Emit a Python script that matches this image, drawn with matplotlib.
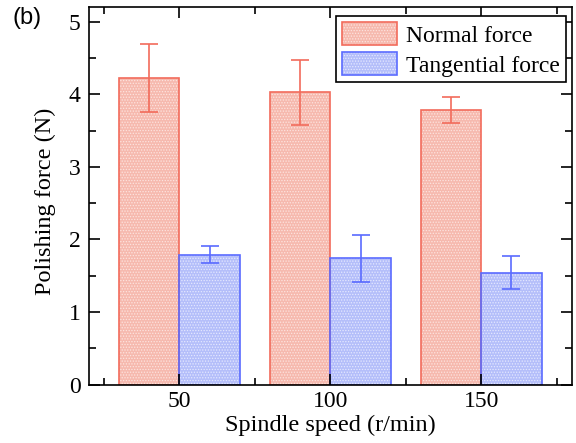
import numpy as np
import matplotlib
matplotlib.use("Agg")
import matplotlib.pyplot as plt
from matplotlib.patches import Patch
from matplotlib.ticker import MultipleLocator

# values
speeds = ["50", "100", "150"]
normal_force = [4.23, 4.03, 3.79]
normal_err = [0.47, 0.45, 0.18]
tangential_force = [1.79, 1.74, 1.54]
tangential_err = [0.12, 0.32, 0.23]

red_edge = "#f26b5b"
red_fill = "#f6b9ae"
blue_edge = "#5a6bff"
blue_fill = "#b4befa"
red_dot = "#fde4df"
blue_dot = "#e4e8ff"

plt.rcParams["font.family"] = ["Liberation Serif", "DejaVu Serif"]
plt.rcParams["hatch.linewidth"] = 0.6

fig = plt.figure(figsize=(5.76, 4.43), dpi=100)
ax = fig.add_axes([0.1545, 0.132, 0.838, 0.8515])

x = np.arange(1, len(speeds) + 1)
w = 0.4

# hatched fill first, outline on top
ax.bar(x - w / 2, normal_force, w, color=red_fill, hatch="......", edgecolor=red_dot, linewidth=0)
ax.bar(x + w / 2, tangential_force, w, color=blue_fill, hatch="......", edgecolor=blue_dot, linewidth=0)
ax.bar(x - w / 2, normal_force, w, fill=False, edgecolor=red_edge, linewidth=1.2)
ax.bar(x + w / 2, tangential_force, w, fill=False, edgecolor=blue_edge, linewidth=1.2)

ax.errorbar(x - w / 2, normal_force, yerr=normal_err, fmt="none", ecolor=red_edge, elinewidth=1.2, capsize=6.5, capthick=1.2)
ax.errorbar(x + w / 2, tangential_force, yerr=tangential_err, fmt="none", ecolor=blue_edge, elinewidth=1.2, capsize=6.5, capthick=1.2)

ax.set_xlim(0.4, 3.6)
ax.set_ylim(0, 5.2)
ax.set_xticks(x)
ax.set_xticklabels(speeds)
ax.xaxis.set_minor_locator(MultipleLocator(1, offset=0.5))
ax.yaxis.set_major_locator(MultipleLocator(1))
ax.yaxis.set_minor_locator(MultipleLocator(0.5))
ax.tick_params(which="both", direction="in", top=True, right=True, labelsize=17, width=1.2)
ax.tick_params(which="major", length=8)
ax.tick_params(which="minor", length=5)
ax.tick_params(axis="x", pad=5)
ax.tick_params(axis="y", pad=6)
for s in ax.spines.values():
    s.set_linewidth(1.2)

ax.set_xlabel("Spindle speed (r/min)", fontsize=17.5, labelpad=2)
ax.set_ylabel("Polishing force (N)", fontsize=17.5)
ax.yaxis.set_label_coords(-0.068, 0.487)

h_normal = (Patch(facecolor=red_fill, hatch="......", edgecolor=red_dot, linewidth=0),
            Patch(fill=False, edgecolor=red_edge, linewidth=1.2))
h_tang = (Patch(facecolor=blue_fill, hatch="......", edgecolor=blue_dot, linewidth=0),
          Patch(fill=False, edgecolor=blue_edge, linewidth=1.2))
leg = ax.legend([h_normal, h_tang], ["Normal force", "Tangential force"],
                loc="upper right", bbox_to_anchor=(0.988, 0.977), fontsize=17,
                fancybox=False, framealpha=1, edgecolor="black",
                handlelength=2.3, handleheight=1.15, handletextpad=0.4,
                borderpad=0.25, labelspacing=0.22, borderaxespad=0.0)
leg.get_frame().set_linewidth(1.2)

fig.text(0.022, 0.96, "(b)", fontsize=17, family=["Liberation Sans", "DejaVu Sans"],
         ha="left", va="center")

fig.savefig("out.png", dpi=100)
